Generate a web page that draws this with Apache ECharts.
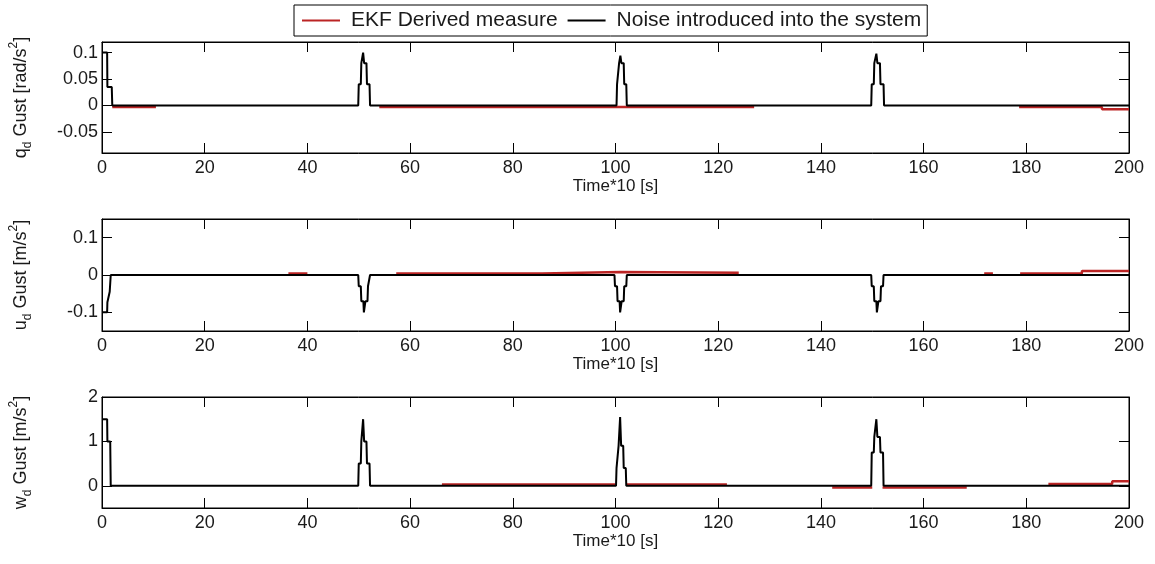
<!DOCTYPE html>
<html><head><meta charset="utf-8">
<script src="https://cdn.jsdelivr.net/npm/echarts@6/dist/echarts.min.js"></script>
<style>html,body{margin:0;padding:0;background:#fff}#c{width:1155px;height:564px}</style>
</head><body><div id="c"></div><script>
const legendNames = ['EKF Derived measure', 'Noise introduced into the system'];
const xLabel = 'Time*10 [s]';
const xMin = 0, xMax = 200, xStep = 20;

// subplot 1 : q_d Gust [rad/s^2]
const qRange = [-0.09, 0.12];
const qTicks = [-0.05, 0, 0.05, 0.1];
const qNoise = [[0,0.1],[1,0.1],[1.05,0.035],[1.9,0.035],[2,0],
  [49.9,0],[50,0.04],[50.4,0.04],[50.5,0.08],[50.8,0.08],[50.85,0.1],[51.0,0.1],[51.05,0.08],[51.5,0.08],[51.6,0.04],[52.1,0.04],[52.2,0],
  [100.2,0],[100.3,0.04],[100.6,0.04],[100.7,0.08],[100.9,0.08],[100.95,0.094],[101.1,0.094],[101.15,0.08],[101.6,0.08],[101.7,0.04],[102.1,0.04],[102.2,0],
  [149.8,0],[149.9,0.04],[150.3,0.04],[150.4,0.08],[150.7,0.08],[150.8,0.098],[150.95,0.098],[151.0,0.08],[151.5,0.08],[151.6,0.04],[152.2,0.04],[152.3,0],
  [200,0]];
// EKF estimate: only the stretches where it departs from zero ('-' = gap)
const qEkf = [[2,-0.003],[10.5,-0.003],[10.5,'-'],
  [54,-0.003],[127,-0.003],[127,'-'],
  [178.6,-0.003],[194.7,-0.003],[194.75,-0.007],[200,-0.007]];

// subplot 2 : u_d Gust [m/s^2]
const uRange = [-0.15, 0.15];
const uTicks = [-0.1, 0, 0.1];
const uNoise = [[0,-0.1],[1,-0.1],[1.05,-0.073],[1.5,-0.045],[1.7,0],
  [49.9,0],[50,-0.03],[50.4,-0.03],[50.5,-0.07],[50.9,-0.07],[51.0,-0.1],[51.2,-0.1],[51.3,-0.07],[51.7,-0.07],[51.8,-0.03],[52.1,-0.03],[52.2,0],
  [99.8,0],[99.9,-0.03],[100.3,-0.03],[100.4,-0.07],[100.8,-0.07],[100.9,-0.1],[101.1,-0.1],[101.2,-0.07],[101.6,-0.07],[101.7,-0.03],[102.1,-0.03],[102.2,0],
  [149.8,0],[149.9,-0.03],[150.3,-0.03],[150.4,-0.07],[150.8,-0.07],[150.9,-0.1],[151.1,-0.1],[151.2,-0.07],[151.6,-0.07],[151.7,-0.03],[152.1,-0.03],[152.2,0],
  [200,0]];
const uEkf = [[36.3,0.004],[40,0.004],[40,'-'],
  [57.3,0.004],[85.7,0.004],[85.75,0.008],[101,0.008],[101.05,0.006],[124,0.006],[124,'-'],
  [171.8,0.004],[173.5,0.004],[173.5,'-'],
  [178.8,0.004],[190.8,0.004],[190.85,0.011],[200,0.011]];

// subplot 3 : w_d Gust [m/s^2]
const wRange = [-0.5, 2];
const wTicks = [0, 1, 2];
const wNoise = [[0,1.5],[1,1.5],[1.05,1.0],[1.6,1.0],[1.7,0],
  [49.9,0],[50,0.5],[50.4,0.5],[50.5,1.0],[50.8,1.0],[50.85,1.5],[51.0,1.5],[51.05,1.0],[51.5,1.0],[51.6,0.5],[52.1,0.5],[52.2,0],
  [100.1,0],[100.2,0.4],[100.5,0.4],[100.6,0.9],[100.85,0.9],[100.9,1.55],[101.05,1.55],[101.1,0.9],[101.5,0.9],[101.6,0.4],[102.0,0.4],[102.1,0],
  [149.8,0],[149.9,0.75],[150.3,0.75],[150.4,1.1],[150.75,1.1],[150.8,1.5],[150.95,1.5],[151.0,1.1],[151.5,1.1],[151.6,0.75],[152.1,0.75],[152.2,0],
  [200,0]];
const wEkf = [[66.2,0.03],[99.9,0.03],[99.9,'-'],
  [102.2,0.03],[121.7,0.03],[121.7,'-'],
  [142.2,-0.04],[150,-0.04],[150,'-'],
  [152,-0.04],[168.4,-0.04],[168.4,'-'],
  [184.3,0.04],[196.7,0.04],[196.75,0.1],[200,0.1]];

const yNames = [
  '{t|q}{s|d}{t| Gust [rad/s}{p|2}{t|]}',
  '{t|u}{s|d}{t| Gust [m/s}{p|2}{t|]}',
  '{t|w}{s|d}{t| Gust [m/s}{p|2}{t|]}'
];

const FONT = 'Liberation Sans, Arial, sans-serif';
const TXT = '#1a1a1a';
const RED = '#bb2424';
const panels = [
  {range: qRange, ticks: qTicks, noise: qNoise, ekf: qEkf, top: 42, height: 111},
  {range: uRange, ticks: uTicks, noise: uNoise, ekf: uEkf, top: 219, height: 112},
  {range: wRange, ticks: wTicks, noise: wNoise, ekf: wEkf, top: 397, height: 111}
];

const grid = [], xAxis = [], yAxis = [], series = [];
const lineAx = {show: true, onZero: false, lineStyle: {color: '#000', width: 1}};
panels.forEach((p, i) => {
  grid.push({left: 102, right: 26, top: p.top, height: p.height, show: true, borderColor: '#000', borderWidth: 1, backgroundColor: '#fff'});
  const xb = {
    type: 'value', gridIndex: i, min: xMin, max: xMax, interval: xStep, position: 'bottom',
    axisLine: lineAx, splitLine: {show: false},
    axisTick: {inside: true, length: 10, lineStyle: {color: '#000', width: 1}},
    axisLabel: {fontSize: 18, fontFamily: FONT, color: TXT, margin: 6},
    name: xLabel, nameLocation: 'middle', nameGap: 19,
    nameTextStyle: {fontSize: 17, fontFamily: FONT, color: TXT}
  };
  const xt = Object.assign({}, xb, {position: 'top', axisLabel: {show: false}, name: ''});
  xAxis.push(xb, xt);
  const yl = {
    type: 'value', gridIndex: i, min: p.range[0], max: p.range[1], position: 'left',
    axisLine: lineAx, splitLine: {show: false},
    axisTick: {inside: true, length: 10, customValues: p.ticks, lineStyle: {color: '#000', width: 1}},
    axisLabel: {fontSize: 18, fontFamily: FONT, color: TXT, margin: 4, customValues: p.ticks},
    name: yNames[i], nameLocation: 'middle', nameGap: 68,
    nameTextStyle: {
      fontFamily: FONT, color: TXT,
      rich: {
        t: {fontSize: 18, fontFamily: FONT, color: TXT, lineHeight: 26, verticalAlign: 'middle'},
        s: {fontSize: 12, fontFamily: FONT, color: TXT, lineHeight: 26, verticalAlign: 'bottom'},
        p: {fontSize: 12, fontFamily: FONT, color: TXT, lineHeight: 26, verticalAlign: 'top'}
      }
    }
  };
  const yr = Object.assign({}, yl, {position: 'right', axisLabel: {show: false, customValues: p.ticks}, name: ''});
  yAxis.push(yl, yr);
  series.push({
    name: legendNames[0], type: 'line', xAxisIndex: 2 * i, yAxisIndex: 2 * i,
    data: p.ekf, symbol: 'none', connectNulls: false,
    lineStyle: {color: RED, width: 2.5}, itemStyle: {color: RED},
    silent: true, z: 2
  });
  series.push({
    name: legendNames[1], type: 'line', xAxisIndex: 2 * i, yAxisIndex: 2 * i,
    data: p.noise, symbol: 'none', lineStyle: {color: '#000', width: 2}, itemStyle: {color: '#000'},
    silent: true, z: 3
  });
});

const chart = echarts.init(document.getElementById('c'), null, {renderer: 'canvas'});
chart.setOption({
  animation: false,
  backgroundColor: '#fff',
  legend: {
    data: legendNames, left: 294, top: 5, orient: 'horizontal',
    icon: 'path://M0,0H40V2H0Z',
    padding: [5, 6, 5, 8], itemGap: 10, itemWidth: 38, itemHeight: 2,
    borderColor: '#000', borderWidth: 1, backgroundColor: '#fff',
    textStyle: {fontSize: 21, fontFamily: FONT, color: TXT, padding: [0, 0, 0, 6]}
  },
  grid, xAxis, yAxis, series
});
</script></body></html>
